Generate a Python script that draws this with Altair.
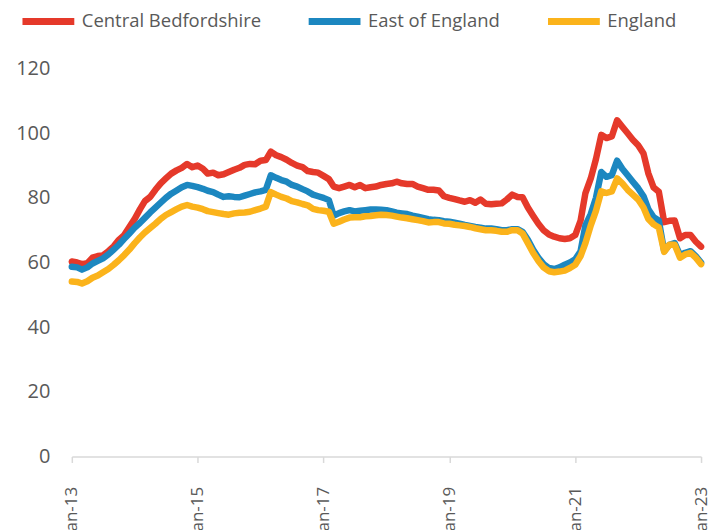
import altair as alt
import pandas as pd

series_names = ["Central Bedfordshire", "East of England", "England"]
series_colors = ["#E5392A", "#1C87C0", "#FBB31B"]

start_month = "2013-01-01"
n_months = 121

central_beds = [
    60.3, 60.0, 59.5, 59.8, 61.5, 62.0, 62.2, 63.5, 65.0, 67.0, 68.5, 71.0,
    73.5, 76.5, 79.0, 80.3, 82.5, 84.5, 86.0, 87.5, 88.5, 89.3, 90.5, 89.5,
    90.0, 89.0, 87.5, 87.8, 87.0, 87.3, 88.0, 88.7, 89.3, 90.2, 90.5, 90.4,
    91.5, 91.7, 94.3, 93.2, 92.6, 91.8, 90.8, 90.0, 89.5, 88.3, 88.0, 87.8,
    86.8, 85.8, 83.5, 83.0, 83.5, 84.0, 83.3, 84.0, 83.0, 83.3, 83.5, 84.0,
    84.3, 84.5, 85.0, 84.5, 84.3, 84.3, 83.5, 83.0, 82.5, 82.5, 82.3, 80.5,
    80.0, 79.6, 79.2, 78.8, 79.3, 78.5, 79.5, 78.2, 78.0, 78.2, 78.3, 79.5,
    81.0, 80.3, 80.2, 77.0, 74.5, 72.0, 70.0, 68.7, 68.0, 67.5, 67.3, 67.5,
    68.5, 73.0, 81.5, 86.0, 92.0, 99.5, 98.5, 99.0, 104.0, 102.0, 100.0, 98.0,
    96.3, 93.7, 87.6, 83.2, 81.9, 72.5, 72.9, 73.0, 67.5, 68.5, 68.5, 66.5,
    64.9,
]

east_of_england = [
    58.7, 58.5, 57.8, 58.5, 59.7, 60.5, 61.3, 62.5, 64.0, 65.5, 67.3, 69.0,
    70.8, 72.3, 73.8, 75.5, 77.0, 78.5, 80.0, 81.3, 82.3, 83.3, 84.0, 83.7,
    83.3, 82.8, 82.2, 81.8, 81.0, 80.3, 80.5, 80.3, 80.2, 80.7, 81.2, 81.7,
    82.0, 82.5, 87.0, 86.2, 85.5, 85.0, 84.0, 83.5, 82.7, 82.0, 81.0, 80.5,
    80.0, 79.3, 74.5, 75.3, 75.8, 76.2, 75.8, 76.0, 76.2, 76.4, 76.4, 76.3,
    76.2, 75.8, 75.4, 75.2, 75.0, 74.5, 74.2, 73.8, 73.4, 73.2, 73.1, 72.8,
    72.6, 72.3, 72.0, 71.6, 71.3, 71.0, 70.8, 70.5, 70.5, 70.3, 70.0, 70.0,
    70.3, 70.3, 69.5, 67.0, 64.0, 61.5, 59.5, 58.3, 58.0, 58.5, 59.3, 60.0,
    61.0, 63.5, 71.5, 75.0, 80.0, 88.0, 86.5, 87.0, 91.5, 89.0, 87.0, 85.0,
    83.0, 80.5, 76.5, 74.0, 73.0, 63.5, 65.5, 66.0, 62.3, 63.0, 63.5, 62.0,
    60.0,
]

england = [
    54.1, 54.0, 53.5, 54.2, 55.3, 56.0, 57.0, 58.0, 59.3, 60.7, 62.3, 64.0,
    66.0, 67.8, 69.3, 70.7, 72.0, 73.5, 74.7, 75.6, 76.5, 77.3, 77.8, 77.3,
    77.0, 76.5, 75.9, 75.6, 75.3, 75.0, 74.8, 75.2, 75.4, 75.5, 75.7, 76.2,
    76.7, 77.3, 81.8, 81.0, 80.3, 79.8, 79.0, 78.6, 78.1, 77.7, 76.6, 76.2,
    76.0, 75.7, 72.0, 72.6, 73.3, 73.9, 74.0, 74.0, 74.3, 74.4, 74.6, 74.8,
    74.7, 74.5, 74.2, 73.9, 73.7, 73.4, 73.1, 72.8, 72.4, 72.5, 72.5, 72.1,
    72.0, 71.7, 71.5, 71.3, 71.0, 70.6, 70.3, 70.0, 70.0, 69.8, 69.5, 69.5,
    70.0, 70.0, 69.0, 66.0, 63.0, 60.5, 58.5, 57.3, 57.0, 57.2, 57.5, 58.3,
    59.3, 62.0, 66.0, 71.5, 76.0, 82.0, 81.5, 82.0, 86.0, 84.5, 82.5, 81.0,
    79.5, 77.0, 73.5, 71.8, 70.8, 63.3, 65.5, 65.5, 61.5, 62.5, 63.0, 61.5,
    59.5,
]

y_ticks = [0, 20, 40, 60, 80, 100, 120]
x_tick_years = [2013, 2015, 2017, 2019, 2021, 2023]

months = pd.date_range(start_month, periods=n_months, freq="MS")
month_strings = [m.strftime("%Y-%m-%dT00:00:00") for m in months]

rows = []
for name, vals in zip(series_names, [central_beds, east_of_england, england]):
    for d, v in zip(month_strings, vals):
        rows.append({"date": d, "value": v, "series": name})
df = pd.DataFrame(rows)

FONT = "Open Sans"
GREY = "#595959"

chart = alt.Chart(df).mark_line(
    strokeWidth=6.5, strokeJoin="round", strokeCap="round"
).encode(
    x=alt.X(
        "date:T",
        scale=alt.Scale(
            domain=[alt.DateTime(year=2013, month=1, date=1),
                    alt.DateTime(year=2023, month=1, date=1)],
            nice=False,
        ),
        axis=alt.Axis(
            values=[alt.DateTime(year=y, month=1, date=1) for y in x_tick_years],
            format="%b-%y",
            labelAngle=-90,
            labelFontSize=17,
            labelFont=FONT,
            labelColor=GREY,
            labelPadding=24,
            domainColor="#d9d9d9",
            domainWidth=1.5,
            tickColor="#d9d9d9",
            tickWidth=1.5,
            tickSize=6,
            grid=False,
            title=None,
        ),
    ),
    y=alt.Y(
        "value:Q",
        scale=alt.Scale(domain=[0, 120], nice=False),
        axis=alt.Axis(
            values=y_ticks,
            labelFontSize=20,
            labelFont=FONT,
            labelColor=GREY,
            labelPadding=22,
            domain=False,
            ticks=False,
            grid=False,
            title=None,
        ),
    ),
    color=alt.Color(
        "series:N",
        scale=alt.Scale(domain=series_names, range=series_colors),
        legend=alt.Legend(
            orient="none",
            legendX=-53,
            legendY=-77,
            direction="horizontal",
            title=None,
            symbolType="stroke",
            symbolSize=2700,
            symbolStrokeWidth=7,
            labelFontSize=18.5,
            labelFont=FONT,
            labelColor=GREY,
            labelOffset=4,
            labelLimit=0,
            columnPadding=33,
        ),
    ),
    detail="series:N",
).properties(
    width=631,
    height=389,
    autosize=alt.AutoSizeParams(type="none"),
    padding={"left": 64, "top": 60, "right": 15, "bottom": 73},
).configure_view(stroke=None)

chart.save("out.html", embed_options={"renderer": "svg", "actions": False})
